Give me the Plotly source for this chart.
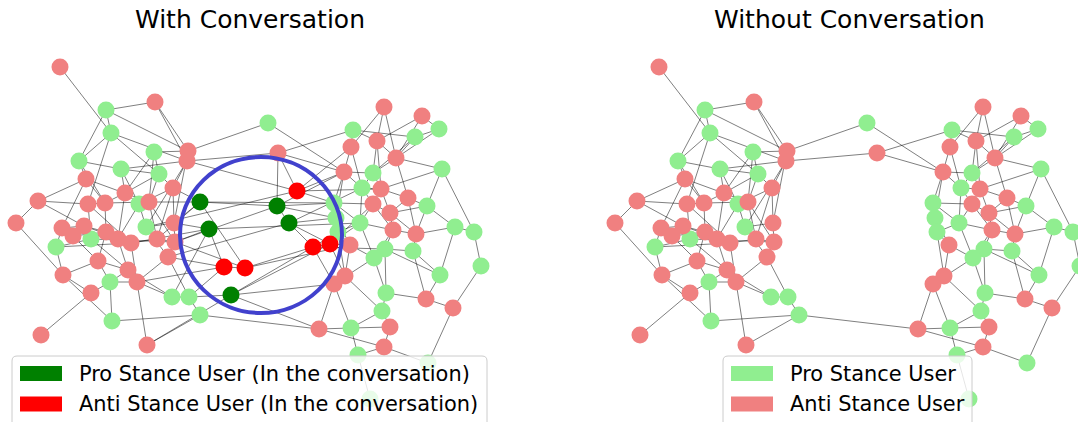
import plotly.graph_objects as go

# ---------------- data: node layout positions (shared by both panels) ----------------
node_ids = list(range(1, 101))
node_x = [60, 155, 106, 111, 154, 79, 121, 159, 86, 173, 125, 38, 88, 105, 139, 149,
          188, 187, 16, 62, 73, 84, 56, 91, 106, 118, 131, 157, 146, 174, 175, 168,
          98, 128, 137, 110, 63, 91, 172, 189, 200, 112, 41, 147, 268, 278,
          384, 422, 353, 439, 415, 351, 377, 396, 442, 344, 373, 362, 381, 408, 334, 373,
          390, 427, 336, 360, 338, 393, 416, 455, 474, 350, 385, 413, 374, 481, 440, 345,
          334, 386, 426, 453, 382, 319, 351, 390, 384, 358, 428, 370,
          200, 277, 209, 289, 297, 313, 330, 224, 245, 231]
node_y = [67, 102, 110, 133, 152, 161, 169, 174, 179, 188, 193, 201, 204, 203, 204, 202,
          151, 161, 223, 228, 236, 226, 247, 239, 232, 239, 243, 239, 227, 223, 242, 257,
          261, 270, 282, 282, 275, 293, 297, 297, 315, 321, 335, 345, 123, 153,
          107, 116, 130, 129, 137, 147, 141, 158, 169, 172, 173, 188, 189, 198, 203, 204,
          213, 206, 218, 223, 232, 230, 234, 227, 232, 245, 249, 251, 258, 266, 275, 276,
          284, 293, 299, 308, 311, 329, 328, 327, 347, 355, 363, 399,
          202, 206, 229, 223, 191, 247, 244, 267, 268, 295]
node_stance = list("AAPPPPPPAAAAAAPA" "AAAAAAPPAAAAPAAA" "AAAPAAPPPPAAPAAA"
                   "PPPAAAPAPPAAPAAP" "PPPAAPPAPPPPPAAP" "AAPAPAAPPP" "PPPPAAAAAP")
conversation_ids = [91, 92, 93, 94, 95, 96, 97, 98, 99, 100]

edges = [
    (1, 4), (2, 3), (2, 17), (2, 18), (3, 4), (3, 6), (3, 17), (4, 6), (4, 8), (4, 13), (4, 18),
    (5, 8), (5, 17), (5, 11), (5, 16), (6, 7), (6, 9), (6, 14), (7, 8), (7, 18), (7, 11), (7, 15),
    (8, 10), (8, 16), (8, 11), (9, 12), (9, 16), (9, 14), (9, 20), (10, 18), (10, 15), (10, 28),
    (10, 30), (11, 14), (11, 15), (11, 26), (12, 13), (12, 19), (12, 22), (13, 14), (13, 24),
    (13, 27), (14, 16), (14, 25), (15, 16), (15, 29), (15, 26), (16, 28), (16, 31), (17, 18),
    (17, 30), (18, 29), (19, 37), (20, 22), (20, 23), (20, 26), (21, 22), (21, 25), (21, 33),
    (22, 25), (22, 27), (23, 24), (23, 37), (23, 27), (24, 25), (24, 34), (24, 31), (25, 26),
    (25, 33), (26, 27), (26, 34), (27, 28), (27, 35), (28, 29), (28, 31), (29, 30), (29, 32),
    (30, 31), (31, 32), (32, 35), (33, 34), (33, 36), (33, 37), (34, 35), (34, 36), (35, 36),
    (35, 39), (36, 38), (37, 38), (38, 43), (39, 40), (39, 34), (40, 32), (40, 41), (42, 41),
    (42, 36), (42, 37), (44, 35), (44, 41), (45, 17), (46, 18), (45, 56), (46, 49), (46, 56),
    (41, 84),
    (47, 52), (47, 53), (47, 54), (48, 53), (48, 50), (48, 54), (49, 51), (49, 52), (49, 53),
    (50, 51), (50, 54), (51, 54), (51, 57), (52, 56), (52, 58), (53, 54), (53, 57), (53, 59),
    (54, 55), (54, 57), (54, 60), (55, 59), (55, 71), (55, 64), (56, 57), (56, 58), (56, 61),
    (56, 65), (57, 58), (57, 59), (58, 59), (58, 62), (58, 66), (59, 60), (59, 62), (59, 63),
    (60, 64), (60, 63), (60, 69), (61, 62), (61, 65), (61, 66), (61, 67), (62, 63), (62, 66),
    (62, 68), (63, 68), (63, 64), (63, 69), (64, 70), (64, 69), (65, 67), (65, 72), (66, 67),
    (66, 68), (66, 75), (67, 72), (67, 78), (68, 69), (68, 73), (68, 75), (69, 74), (69, 70),
    (70, 71), (70, 77), (71, 76), (72, 75), (72, 78), (73, 74), (73, 77), (73, 80), (74, 77),
    (74, 81), (75, 80), (75, 79), (76, 82), (77, 81), (78, 79), (78, 83), (79, 84), (79, 85),
    (80, 83), (80, 81), (81, 82), (82, 89), (83, 85), (83, 86), (84, 85), (84, 87), (85, 86),
    (85, 88), (86, 87), (87, 88), (87, 89), (88, 90),
    (91, 16), (91, 10), (91, 30), (91, 92), (91, 61), (91, 99), (91, 28),
    (92, 94), (92, 61), (92, 65), (92, 46), (92, 31), (92, 56),
    (93, 30), (93, 31), (93, 98), (93, 66), (93, 39), (93, 27),
    (94, 97), (94, 96), (94, 65), (94, 32), (94, 58),
    (95, 46), (95, 56), (95, 52), (95, 61), (95, 59), (95, 29), (95, 18),
    (96, 97), (96, 99), (96, 79), (96, 67), (96, 73),
    (97, 72), (97, 78), (97, 62), (97, 66),
    (98, 99), (98, 32), (98, 35), (98, 40),
    (99, 72), (99, 31),
    (100, 40), (100, 97), (100, 84), (100, 79), (100, 44), (100, 96),
]

panel_titles = ["With Conversation", "Without Conversation"]
legend_left = ["Pro Stance User (In the conversation)", "Anti Stance User (In the conversation)"]
legend_right = ["Pro Stance User", "Anti Stance User"]

# ---------------- styling ----------------
C_PRO, C_ANTI = "#90EE90", "#F08080"
C_PRO_CONV, C_ANTI_CONV = "#008000", "#FF0000"
EDGE_COLOR = "rgba(0,0,0,0.5)"
FONT = "DejaVu Sans"

pos = {i: (x, y) for i, x, y in zip(node_ids, node_x, node_y)}
stance = dict(zip(node_ids, node_stance))
conv = set(conversation_ids)

fig = go.Figure()


def edge_xy(keep):
    xs, ys = [], []
    for a, b in edges:
        if keep(a) and keep(b):
            xs += [pos[a][0], pos[b][0], None]
            ys += [pos[a][1], pos[b][1], None]
    return xs, ys


def add_panel(xaxis, with_conv):
    keep = (lambda n: True) if with_conv else (lambda n: n not in conv)
    ex, ey = edge_xy(keep)
    fig.add_trace(go.Scatter(x=ex, y=ey, mode="lines", xaxis=xaxis, yaxis="y",
                             line=dict(color=EDGE_COLOR, width=1), hoverinfo="skip",
                             showlegend=False))
    groups = [("P", False, C_PRO), ("A", False, C_ANTI)]
    if with_conv:
        groups += [("P", True, C_PRO_CONV), ("A", True, C_ANTI_CONV)]
    for st, inc, col in groups:
        ids = [n for n in node_ids if stance[n] == st and ((n in conv) == inc) and keep(n)]
        fig.add_trace(go.Scatter(x=[pos[n][0] for n in ids], y=[pos[n][1] for n in ids],
                                 mode="markers", xaxis=xaxis, yaxis="y",
                                 marker=dict(size=17, color=col, line=dict(width=0)),
                                 showlegend=False, hoverinfo="skip"))


add_panel("x", True)
add_panel("x2", False)

W, H = 1078, 422
OFFSET = 599   # horizontal placement of the second panel

shapes = []
# highlight circle around the conversation
shapes.append(dict(type="circle", xref="x", yref="y", x0=180, x1=342, y0=157, y1=313,
                   line=dict(color="#4141CD", width=4), layer="above"))


def legend_box(x0, x1, labels, colors):
    y0, y1, r = 356, 450, 5
    path = (f"M {x0+r},{y0} L {x1-r},{y0} Q {x1},{y0} {x1},{y0+r} L {x1},{y1} "
            f"L {x0},{y1} L {x0},{y0+r} Q {x0},{y0} {x0+r},{y0} Z")
    shapes.append(dict(type="path", xref="x", yref="y", path=path,
                       fillcolor="rgba(255,255,255,0.8)",
                       line=dict(color="rgba(204,204,204,1)", width=1), layer="above"))
    for k, (lab, col) in enumerate(zip(labels, colors)):
        yc = 373.5 + 30.5 * k
        shapes.append(dict(type="rect", xref="x", yref="y", x0=x0 + 8, x1=x0 + 50,
                           y0=yc - 7.5, y1=yc + 7.5, fillcolor=col, line=dict(width=0),
                           layer="above"))
        fig.add_annotation(x=x0 + 65, y=yc, xref="x", yref="y", text=lab, showarrow=False,
                           xanchor="left", yanchor="middle",
                           font=dict(family=FONT, size=20.9, color="black"))


legend_box(12, 487, legend_left, [C_PRO_CONV, C_ANTI_CONV])
legend_box(723, 972, legend_right, [C_PRO, C_ANTI])

for t, xc in zip(panel_titles, [250, 250 + OFFSET]):
    fig.add_annotation(x=xc, y=19, xref="x", yref="y", text=t, showarrow=False,
                       xanchor="center", yanchor="middle",
                       font=dict(family=FONT, size=25, color="black"))

fig.update_layout(
    width=W, height=H, margin=dict(l=0, r=0, t=0, b=0),
    paper_bgcolor="white", plot_bgcolor="white", showlegend=False,
    xaxis=dict(range=[0, W], visible=False, fixedrange=True),
    xaxis2=dict(range=[-OFFSET, W - OFFSET], visible=False, overlaying="x", fixedrange=True),
    yaxis=dict(range=[H, 0], visible=False, fixedrange=True),
    shapes=shapes,
)

fig.write_html("out.html", config={"displayModeBar": False},
               post_script="document.body.style.margin='0px';")
